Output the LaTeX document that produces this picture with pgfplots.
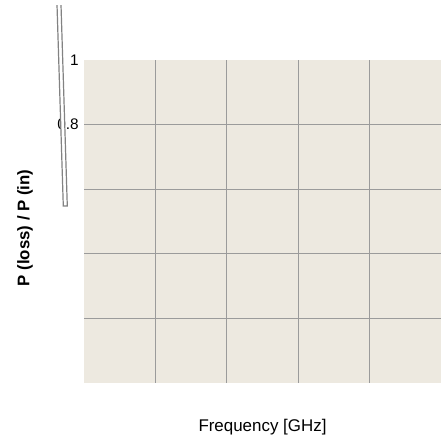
\documentclass[border=0pt]{standalone}
\usepackage{pgfplots}
\pgfplotsset{compat=1.18}
\usepackage{fontspec}
\setmainfont{Liberation Sans}
\definecolor{bgc}{RGB}{237,233,224}
\definecolor{gridc}{RGB}{155,155,155}
\definecolor{linec}{RGB}{130,130,130}
\begin{document}
\begin{tikzpicture}
\begin{axis}[
  name=ax,
  set layers,
  scale only axis,
  width=267.75pt, height=242.25pt,
  xmin=0, xmax=5, ymin=0, ymax=1,
  clip=false,
  axis line style={draw=none},
  axis background/.style={fill=bgc},
  major tick length=0pt,
  xtick={1,2,3,4}, xticklabels={},
  ytick={0.2,0.4,0.6,0.8}, yticklabels={,,,0.8},
  extra y ticks={1}, extra y tick labels={1},
  extra y tick style={grid=none},
  grid=major,
  major grid style={draw=gridc, line width=0.9pt},
  /pgf/number format/assume math mode=true,
  tick label style={font=\fontsize{11.5pt}{13pt}\selectfont},
  yticklabel style={xshift=-0.5pt},
  xlabel={Frequency [GHz]},
  ylabel={\bfseries P (loss) / P (in)},
  xlabel style={font=\fontsize{12.7pt}{15pt}\selectfont, at={(axis description cs:0.5,-0.1362)}, anchor=center},
  ylabel style={font=\fontsize{12.6pt}{15pt}\selectfont, at={(axis description cs:-0.1653,0.48)}, anchor=center},
]
\addplot[draw=linec, fill=white, line width=0.9pt, on layer=axis foreground] coordinates {
  (-0.378,1.170) (-0.290,0.548) (-0.234,0.548) (-0.322,1.170)
};
\end{axis}
\pgfresetboundingbox
\useasboundingbox ([xshift=-63pt,yshift=-44.25pt]ax.south west) rectangle ([yshift=45pt]ax.north east);
\end{tikzpicture}
\end{document}
